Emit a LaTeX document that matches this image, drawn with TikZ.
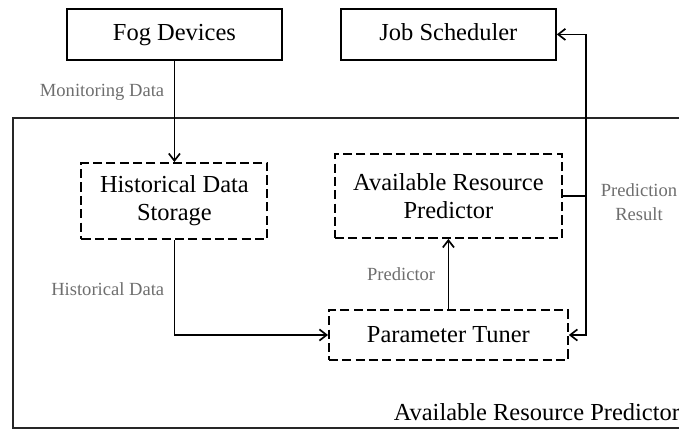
\documentclass[tikz,border=0pt]{standalone}
\usepackage{fontspec}
\setmainfont{Liberation Serif}
\usetikzlibrary{arrows.meta}

\definecolor{labelgray}{HTML}{6E6E6E}

\begin{document}
\begin{tikzpicture}[->, >={Straight Barb[length=1.8mm, width=2.8mm]}, line width=1.2pt,
	box/.style={draw, rectangle, line width=1.3pt, font=\fontsize{17.4}{20}\selectfont, align=center},
	solidbox/.style={box, minimum width=5.375cm, minimum height=1.275cm, text height=2.4ex, text depth=.6ex},
	dashbox/.style={box, dash pattern=on 6.5pt off 3pt},
	lbl/.style={text=labelgray, font=\fontsize{13.2}{15.5}\selectfont, inner sep=0pt}]

	\useasboundingbox (0,0) rectangle (16.975,-10.75);

	% outer frame of the predictor
	\draw[-, line width=1.3pt, draw=black!85] (16.975,-2.95) -- (0.325,-2.95) -- (0.325,-10.7) -- (16.975,-10.7);
	\node[anchor=east, inner sep=0pt, font=\fontsize{17.4}{20}\selectfont] (frame) at (17.02,-10.3) {Available Resource Predictor};

	\node[solidbox] (fog) at (4.36,-0.86) {Fog Devices};
	\node[solidbox] (sched) at (11.21,-0.86) {Job Scheduler};
	\node[dashbox, minimum width=4.65cm, minimum height=1.9cm] (hds) at (4.36,-5.025) {Historical Data\\Storage};
	\node[dashbox, minimum width=5.675cm, minimum height=2.1cm] (arp) at (11.21,-4.9) {Available Resource\\Predictor};
	\node[dashbox, minimum width=5.975cm, minimum height=1.25cm] (tuner) at (11.21,-8.375) {Parameter Tuner};

	\coordinate (split) at (14.65,-4.9);

	\node[lbl, anchor=east] (mon) at (4.125,-2.3) {Monitoring Data};
	\node[lbl, anchor=east] (hist) at (4.125,-7.225) {Historical Data};
	\node[lbl, anchor=east] (pred) at (10.9,-6.85) {Predictor};
	\node[lbl, align=center] (res) at (15.975,-5.05) {Prediction\\[2pt]Result};

	\draw (fog) -> (hds);
	\draw (hds.south) |- (tuner.west);
	\draw (tuner) -> (arp);
	\draw[-] (arp.east) -- (split);
	\draw (split) |- (sched.east);
	\draw (split) |- (tuner.east);
\end{tikzpicture}
\end{document}
